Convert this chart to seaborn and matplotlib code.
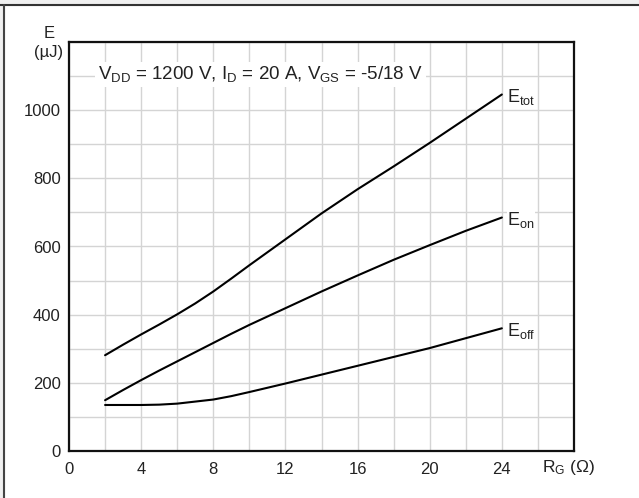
import pandas as pd
import matplotlib
matplotlib.use('Agg')
import matplotlib.pyplot as plt
from matplotlib.patches import Rectangle
from matplotlib.lines import Line2D
import seaborn as sns

# gate resistance (ohm) and switching energies (uJ)
rg = [2, 3, 4, 5, 6, 7, 8, 9, 10, 12, 14, 16, 18, 20, 22, 24]
e_tot = [281, 312, 342, 371, 401, 433, 468, 506, 545, 621, 697, 768, 835, 904, 975, 1046]
e_on = [149, 179, 208, 236, 263, 290, 317, 344, 370, 419, 468, 515, 561, 604, 646, 685]
e_off = [135, 135, 135, 136, 139, 145, 151, 161, 173, 198, 224, 250, 276, 302, 331, 360]
curve_names = ['E$_{tot}$', 'E$_{on}$', 'E$_{off}$']
x_ticks = [0, 4, 8, 12, 16, 20, 24]
y_ticks = [0, 200, 400, 600, 800, 1000]

df = pd.concat([
    pd.DataFrame({'rg': rg, 'E': vals, 'curve': name})
    for name, vals in zip(curve_names, [e_tot, e_on, e_off])
])

sns.set_style('white')
plt.rcParams['font.family'] = ['Liberation Sans', 'DejaVu Sans']
plt.rcParams['mathtext.fontset'] = 'custom'
plt.rcParams['mathtext.rm'] = 'Liberation Sans'
plt.rcParams['mathtext.it'] = 'Liberation Sans'
plt.rcParams['mathtext.default'] = 'regular'

fig = plt.figure(figsize=(6.39, 4.98), dpi=100)
W, H = 639, 498
ax = fig.add_axes([69 / W, (H - 451) / H, 505 / W, 409 / H])

sns.lineplot(data=df, x='rg', y='E', hue='curve', palette=['black'] * 3,
             legend=False, linewidth=1.5, ax=ax, sort=False)

ax.set_xlim(0, 28)
ax.set_ylim(0, 1200)
ax.set_xticks(range(0, 29, 2), minor=True)
ax.set_yticks(range(0, 1201, 100), minor=True)
ax.set_xticks(x_ticks)
ax.set_yticks(y_ticks)
ax.grid(True, which='both', color='#d4d4d4', linewidth=1)
ax.set_axisbelow(True)
ax.tick_params(which='both', length=0, labelsize=12, colors='#222222', pad=6)
ax.tick_params(axis='x', pad=8)
ax.set_xlabel('')
ax.set_ylabel('')
for s in ax.spines.values():
    s.set_color('#111111')
    s.set_linewidth(1.6)

# axis labels in place of last tick labels
fig.text(568 / W, 1 - 467 / H, 'R$_{G}$ (Ω)', ha='center', va='center',
         fontsize=12.5, color='#222222')
fig.text(49 / W, 1 - 43 / H, 'E\n(µJ)', ha='center', va='center',
         multialignment='center', fontsize=12, color='#222222', linespacing=1.4)

ax.text(1.6, 1105, 'V$_{DD}$ = 1200 V, I$_{D}$ = 20 A, V$_{GS}$ = -5/18 V',
        ha='left', va='center', fontsize=13.5, color='#222222',
        bbox=dict(facecolor='white', edgecolor='none', pad=2))

for name, vals in zip(curve_names, [e_tot, e_on, e_off]):
    ax.text(rg[-1] + 0.3, vals[-1] - 8, name, ha='left', va='center',
            fontsize=13, color='#222222',
            bbox=dict(facecolor='white', edgecolor='none', pad=0.5))

# page frame from the screenshot
fig.add_artist(Rectangle((0, 1 - 5 / H), 1, 5 / H, transform=fig.transFigure,
                         color='#f0f0f0', zorder=0))
fig.add_artist(Rectangle((0, 0), 3.5 / W, 1, transform=fig.transFigure,
                         color='#f0f0f0', zorder=0))
fig.add_artist(Line2D([0, 1], [1 - 5.5 / H] * 2, transform=fig.transFigure,
                      color='#333333', linewidth=1.5))
fig.add_artist(Line2D([4 / W] * 2, [0, 1 - 5.5 / H], transform=fig.transFigure,
                      color='#444444', linewidth=1.5))

fig.savefig('out.png', dpi=100)
